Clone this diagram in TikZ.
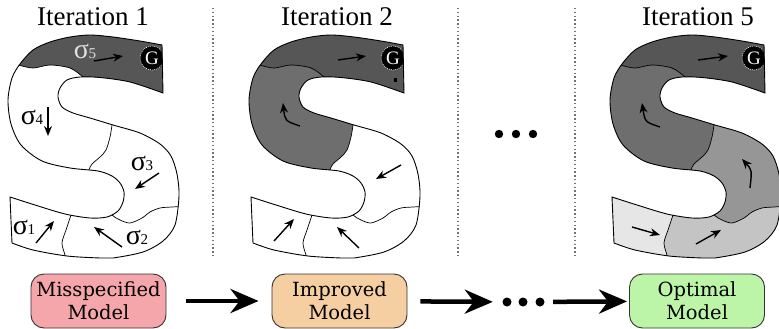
\documentclass[tikz,border=0pt]{standalone}
\usepackage{fontspec}
\setmainfont{Liberation Serif}
\newfontfamily\boxfont{DejaVu Serif}
\usetikzlibrary{arrows.meta}

\definecolor{cfive}{HTML}{565656}
\definecolor{cfour}{HTML}{6E6E6E}
\definecolor{cthree}{HTML}{969696}
\definecolor{ctwo}{HTML}{C4C4C4}
\definecolor{cone}{HTML}{E6E6E6}
\definecolor{pinkbox}{HTML}{F4A6AA}
\definecolor{peachbox}{HTML}{F5CEA2}
\definecolor{greenbox}{HTML}{BDF5A8}

\def\Spath{(162,45) -- (163,93) -- plot[smooth] coordinates {(163,93) (130,82) (100,77.5) (80,77) (67,80) (60,88) (58,97) (62,107) (73,113) (90,118) (113,125) (140,133) (160,144) (171,156) (177,174) (179,196) (175,225) (163,241) (143,252) (113,258) (100,258) (67,256) (33,250) (12,243)} -- (10,197) -- plot[smooth] coordinates {(10,197) (35,205) (65,214) (90,218) (107,217) (118,211) (123,202) (124,192) (120,183) (112,176) (98,171) (70,168) (42,161) (21,145) (11,124) (8,100) (12,78) (20,64) (33,50) (50,42) (70,37) (90,35) (113,37) (140,41) (162,45)} -- cycle}
\def\Lfive{-- plot[smooth] coordinates {(5,62) (18,65) (33,68) (50,65) (70,68) (83,77) (92,86)}}
\def\Lfour{-- plot[smooth] coordinates {(113,116) (112,125) (110,137) (106,150) (100,157) (92,164) (89,170) (88,178)}}
\def\Lthree{-- plot[smooth] coordinates {(105,205) (112,215) (120,220) (130,223) (142,218) (150,212) (160,208) (172,207) (190,206)}}
\def\Ltwo{-- plot[smooth] coordinates {(73,208) (70,218) (66,230) (62,243) (65,255) (68,265)}}

\tikzset{
  divline/.style={black, line width=0.7pt},
  outline/.style={black, line width=0.9pt},
  flow/.style={-{Stealth[length=10pt,width=8pt]}, line width=1.4pt},
  title/.style={font=\fontsize{27}{30}\selectfont},
  model/.style={rounded corners=13pt, draw=black!80, line width=0.9pt, minimum width=135pt, minimum height=54pt, align=center, font=\boxfont\fontsize{19.5}{23}\selectfont, inner sep=0pt},
  bigarrow/.style={-{Stealth[length=28pt,width=24pt,inset=9pt]}, line width=4.5pt},
  sep/.style={black!55, line width=1.2pt, dash pattern=on 1.4pt off 2.4pt},
  siglab/.style={inner sep=0pt}
}
\newcommand\sig[1]{{\fontsize{28}{28}\selectfont σ}\kern-0.5pt{\fontsize{15}{15}\selectfont #1}}

\newcommand\drawS[7]{%
\begin{scope}[xshift=#1pt]
 \begin{scope}
  \clip \Spath;
  \fill[#2] (-10,-10) rectangle (210,290);
  \fill[#3] (73,208) \Ltwo -- (68,290) -- (210,290) -- (210,-10) -- (73,-10) -- cycle;
  \fill[#4] (113,116) \Lfour \Lthree -- (210,206) -- (210,100) -- cycle;
  \fill[#5] (0,62) \Lfive -- (113,116) \Lfour -- (0,178) -- cycle;
  \fill[#6] (-10,-10) -- (-10,62) -- (0,62) \Lfive -- (210,100) -- (210,-10) -- cycle;
  \draw[divline] (5,62) \Lfive;
  \draw[divline] (113,116) \Lfour;
  \draw[divline] (105,205) \Lthree;
  \draw[divline] (73,208) \Ltwo;
  \fill[black] (152,58) circle (12);
  \draw[white, line width=0.7pt, dash pattern=on 0.8pt off 1.2pt] (152,58) circle (12);
  \node[text=white, inner sep=0pt, font=\fontsize{19}{19}\selectfont] (#7) at (152,58.5) {G};
 \end{scope}
 \draw[outline] \Spath;
\end{scope}}

\begin{document}
\begin{tikzpicture}[x=1pt,y=-1pt]
\useasboundingbox (0,0) rectangle (779,329);

% separators
\draw[sep] (213,8) -- (213,258);
\draw[sep] (458,8) -- (458,258);
\draw[sep] (575,8) -- (575,258);

% titles
\node[title] (t1) at (93,17) {Iteration 1};
\node[title] (t2) at (337,17) {Iteration 2};
\node[title] (t5) at (698,17) {Iteration 5};

% Iteration 1
\drawS{0}{white}{white}{white}{white}{cfive}{g1}
\node[siglab, text=black!12] (s5) at (85,51) {\sig{5}};
\node[siglab] (s4) at (32,117) {\sig{4}};
\node[siglab] (s3) at (142,163) {\sig{3}};
\node[siglab] (s2) at (137,237) {\sig{2}};
\node[siglab] (s1) at (24,227) {\sig{1}};
\draw[flow] (94,61) -- (123,56);
\draw[flow] (48,107) -- (48,136);
\draw[flow] (159,173) -- (135,189);
\draw[flow] (122,247) -- (94,227);
\draw[flow] (36,243) -- (54,221);

% Iteration 2
\drawS{241}{white}{white}{white}{cfour}{cfive}{g2}
\begin{scope}[xshift=241pt]
\draw[flow] (97,60) -- (125,56);
\draw[flow] (59,126) .. controls (44,121) .. (42,103);
\draw[flow] (160,165) -- (135,179);
\draw[flow] (118,248) -- (96,227);
\draw[flow] (33,241) -- (53,219);
\fill[black] (152.5,78.5) rectangle (155.5,81.5);
\end{scope}

% Iteration 5
\drawS{602}{cone}{ctwo}{cthree}{cfour}{cfive}{g5}
\begin{scope}[xshift=602pt]
\draw[flow] (96,60) -- (126,56);
\draw[flow] (58,127) .. controls (43,122) .. (40,103);
\draw[flow] (148,188) .. controls (150,170) .. (140,159);
\draw[flow] (94,244) -- (119,230);
\draw[flow] (30,227) -- (58,235);
\end{scope}

% top dots
\fill (499,134) circle (4.2);
\fill (516,134) circle (4.2);
\fill (533,134) circle (4.2);

% bottom row
\node[model, fill=pinkbox] (m1) at (98.5,301) {Misspecified\\Model};
\node[model, fill=peachbox] (m2) at (339.5,301) {Improved\\Model};
\node[model, fill=greenbox] (m3) at (697,301) {Optimal\\Model};
\node[minimum width=50pt, minimum height=10pt, inner sep=0pt] (dots) at (523,302) {};
\fill (507,302) circle (4.5);
\fill (523,302) circle (4.5);
\fill (540,302) circle (4.5);

\draw[bigarrow, shorten <=20pt, shorten >=13pt] (m1) -- (m2);
\draw[bigarrow, shorten <=13pt, shorten >=5pt] (m2) -- (dots);
\draw[bigarrow, shorten <=5pt, shorten >=2pt] (dots) -- (m3);
\end{tikzpicture}
\end{document}
